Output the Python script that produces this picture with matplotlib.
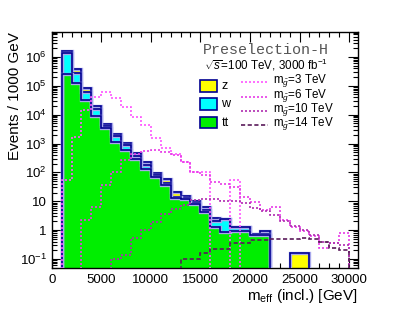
import numpy as np
import matplotlib
matplotlib.use("Agg")
import matplotlib.pyplot as plt
from matplotlib.patches import Rectangle
from matplotlib.lines import Line2D
from matplotlib.ticker import LogLocator, FuncFormatter, MultipleLocator, NullFormatter, FixedLocator
import matplotlib.patheffects as pe

plt.rcParams['font.family'] = ['Liberation Sans', 'DejaVu Sans']
plt.rcParams['mathtext.fontset'] = 'custom'
plt.rcParams['mathtext.rm'] = 'Liberation Sans'
plt.rcParams['mathtext.it'] = 'Liberation Sans:italic'
plt.rcParams['mathtext.bf'] = 'Liberation Sans:bold'

# ---- data: 1000 GeV bins from 0 to 30000 GeV ----
bin_edges = np.arange(0, 31000, 1000)

tt = [0, 2.6e5, 1.29e5, 3.2e4, 9.3e3, 3.4e3, 1170, 580, 280, 130, 72, 36, 12.5, 12, 7.9, 4.4,
      1.3, 0.88, 0.95, 0.95, 0.7, 0.68, 0, 0, 0, 0, 0, 0, 0, 0]
w = [0, 1.14e6, 1.57e5, 3.1e4, 6.2e3, 660, 630, 310, 90, 45, 8, 8, 1.5, 1, 0.8, 0.6,
     0.8, 1.52, 0.31, 0.31, 0.04, 0.07, 0, 0, 0, 0, 0, 0, 0, 0]
z = [0, 2.5e5, 0.98e5, 2.3e4, 4.5e3, 600, 340, 130, 90, 49, 13, 14, 7, 2, 1.9, 1.5,
     0.5, 0.06, 0, 0, 0, 0.18, 0, 0, 0.166, 0.166, 0, 0, 0, 0]

sig_m3 = [0, 55, 1700, 14500, 42000, 60000, 39000, 18000, 8200, 4400, 1600, 690, 450, 230, 107, 107,
          0, 0, 55, 0, 0, 0, 0, 0, 0, 0, 0, 0, 0, 0]
sig_m6 = [0, 0, 0, 2.2, 6.5, 36, 107, 260, 450, 550, 600, 520, 400, 235, 107, 80,
          48, 40, 30, 14, 9.8, 5, 6.5, 2.2, 1.3, 0.9, 0.65, 0.25, 0.35, 0.8]
sig_m10 = [0, 0, 0, 0, 0, 0, 0.1, 0.14, 0.52, 1.0, 1.9, 3.5, 5.5, 7.2, 11, 12,
           12, 10, 10, 8.5, 6, 4.5, 3.3, 2, 1.4, 1, 0.7, 0.4, 0.35, 0.3]
sig_m14 = [0, 0, 0, 0, 0, 0, 0, 0, 0, 0, 0, 0, 0, 0.1, 0.1, 0.16,
           0.22, 0.22, 0.37, 0.37, 0.46, 0.46, 0.48, 0.48, 0.48, 0.55, 0.48, 0.4, 0.25, 0.2]

bkg_labels = ['z', 'w', 'tt']
bkg_colors = ['#ffff00', '#00ffff', '#00ee00']
sig_labels = [r'm$_{\tilde{g}}$=3 TeV', r'm$_{\tilde{g}}$=6 TeV', r'm$_{\tilde{g}}$=10 TeV', r'm$_{\tilde{g}}$=14 TeV']
sig_colors = ['#ff55ff', '#e83ce8', '#b02cb0', '#5a1a5a']
sig_styles = [(0, (1.2, 1.2)), (0, (1.2, 1.2)), (0, (1.2, 1.2)), (0, (2.5, 1.5))]
y_major = [1e-1, 1, 10, 1e2, 1e3, 1e4, 1e5, 1e6]

xlim = (0, 30850)
ylim = (0.0488, 7.3e6)
floor = 1e-4

W, H = 399, 316
fig = plt.figure(figsize=(W / 100, H / 100), dpi=100)
ax_l, ax_r, ax_t, ax_b = 51.7, 357.5, 32, 268
ax = fig.add_axes([ax_l / W, 1 - ax_b / H, (ax_r - ax_l) / W, (ax_b - ax_t) / H])
ax.set_yscale('log')

def clip(v):
    v = np.asarray(v, dtype=float)
    return np.where(v > 0, v, floor)

tt_a = np.asarray(tt, float)
w_a = np.asarray(w, float)
z_a = np.asarray(z, float)
stack_tops = [tt_a + w_a + z_a, tt_a + w_a, tt_a]
edge_col = '#000090'
glow = [pe.withStroke(linewidth=2.4, foreground='#a8a8ec')]
for vals, col in zip(stack_tops, bkg_colors):
    ax.stairs(clip(vals), bin_edges, baseline=floor, fill=True, color=col, zorder=2)
for vals in stack_tops:
    ax.stairs(clip(vals), bin_edges, baseline=floor, fill=False, color=edge_col, lw=1.2,
              zorder=3, path_effects=glow)

for vals, col, ls in zip([sig_m3, sig_m6, sig_m10, sig_m14], sig_colors, sig_styles):
    ax.stairs(clip(vals), bin_edges, baseline=floor, fill=False, color=col, lw=1.2,
              linestyle=ls, zorder=4)

ax.set_xlim(*xlim)
ax.set_ylim(*ylim)

# ticks
ax.xaxis.set_major_locator(MultipleLocator(5000))
ax.xaxis.set_minor_locator(MultipleLocator(1000))
ax.yaxis.set_major_locator(FixedLocator(y_major))
ax.yaxis.set_minor_locator(LogLocator(base=10, subs=np.arange(2, 10), numticks=20))
ax.yaxis.set_minor_formatter(NullFormatter())

def yfmt(v, pos):
    e = int(round(np.log10(v)))
    if e == 0:
        return '1'
    if e == 1:
        return '10'
    return r'$10^{%d}$' % e
ax.yaxis.set_major_formatter(FuncFormatter(yfmt))
ax.xaxis.set_major_formatter(FuncFormatter(lambda v, p: '%d' % v))

ax.tick_params(which='both', direction='in', top=True, right=True, labelsize=9.5, width=0.8)
ax.tick_params(which='major', length=7.5)
ax.tick_params(which='minor', length=3.8)
ax.tick_params(axis='x', pad=4)
for s in ax.spines.values():
    s.set_linewidth(1.0)

ax.set_xlabel(r'm$_{\rm eff}$ (incl.) [GeV]', fontsize=11, loc='right')
ax.xaxis.set_label_coords(1.0, -0.08)
ax.set_ylabel('Events / 1000 GeV', fontsize=11, loc='top')
ax.yaxis.set_label_coords(-0.097, 1.0)

# legend, drawn in pixel positions
def fx(px):
    return (px - ax_l) / (ax_r - ax_l)

def fy(py):
    return (ax_b - py) / (ax_b - ax_t)

ax.text(fx(202.5), fy(50), 'Preselection-H', transform=ax.transAxes, fontsize=10.8,
        family='Liberation Mono', color='#555555', va='center', ha='left')
ax.text(fx(204), fy(65), r'$\sqrt{s}$=100 TeV, 3000 fb$^{-1}$', transform=ax.transAxes,
        fontsize=8.4, va='center', ha='left')

box_y = [80, 98.3, 116.7]
for lab, col, y0 in zip(bkg_labels, bkg_colors, box_y):
    ax.add_patch(Rectangle((fx(199.5), fy(y0 + 11.7)), fx(216.7) - fx(199.5), fy(y0) - fy(y0 + 11.7),
                           transform=ax.transAxes, facecolor=col, edgecolor=edge_col, lw=1.2, zorder=6))
    ax.text(fx(221.5), fy(y0 + 6), lab, transform=ax.transAxes, fontsize=9, va='center', ha='left')

line_y = [81.5, 96.7, 110.5, 125]
for lab, col, ls, y0 in zip(sig_labels, sig_colors, sig_styles, line_y):
    ax.add_line(Line2D([fx(241), fx(268)], [fy(y0), fy(y0)], transform=ax.transAxes,
                       color=col, lw=1.2, linestyle=ls, zorder=6))
    ax.text(fx(273), fy(y0 - 1), lab, transform=ax.transAxes, fontsize=8.4, va='center', ha='left')

fig.savefig('out.png', dpi=100)
